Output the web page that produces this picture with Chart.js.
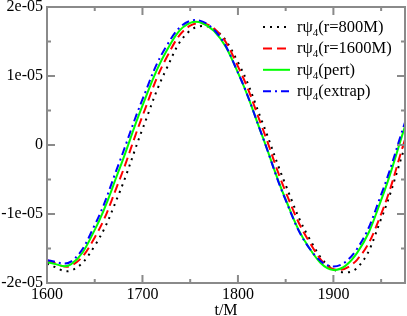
<!DOCTYPE html>
<html>
<head>
<meta charset="utf-8">
<script src="https://cdn.jsdelivr.net/npm/chart.js@4.4.0/dist/chart.umd.min.js"></script>
<style>
  html, body { margin: 0; padding: 0; background: #fff; }
  #c { display: block; }
</style>
</head>
<body>
<canvas id="c" width="407" height="316"></canvas>
<script>
// t/M sample points
const times = [1600, 1625, 1650, 1675, 1700, 1725, 1750, 1775, 1800, 1825, 1850, 1875, 1900, 1925, 1950, 1975];
// r*psi4 in units of 1e-05
const r800   = [-1.72, -1.82, -1.46, -0.72, 0.23, 1.10, 1.66, 1.68, 1.20, 0.35, -0.58, -1.36, -1.80, -1.78, -1.07, -0.02];
const r1600  = [-1.67, -1.75, -1.34, -0.54, 0.42, 1.26, 1.73, 1.69, 1.14, 0.27, -0.68, -1.41, -1.80, -1.66, -1.00, 0.08];
const pert   = [-1.70, -1.73, -1.23, -0.38, 0.57, 1.36, 1.77, 1.65, 1.05, 0.15, -0.79, -1.50, -1.81, -1.56, -0.80, 0.27];
const extrap = [-1.67, -1.69, -1.16, -0.28, 0.66, 1.43, 1.80, 1.67, 1.05, 0.15, -0.80, -1.50, -1.76, -1.50, -0.72, 0.33];

const seriesNames = ['(r=800M)', '(r=1600M)', '(pert)', '(extrap)'];

const xTicks = [1600, 1700, 1800, 1900];
const xMinor = [1650, 1750, 1850, 1950];
const yTicks = [-2, -1, 0, 1, 2];
const yMinor = [-1.5, -0.5, 0.5, 1.5];
const yTickLabels = ['-2e-05', '-1e-05', '0', '1e-05', '2e-05'];

const SERIF = '"Liberation Serif", "Times New Roman", serif';

const pts = arr => arr.map((v, i) => ({ x: times[i], y: v }));

function line(label, values, color, dash, order) {
    return {
        label: 'rψ4' + label,
        data: pts(values),
        borderColor: color,
        backgroundColor: color,
        borderDash: dash,
        borderWidth: 2,
        pointRadius: 0,
        tension: 0.4,
        fill: false,
        order: order
    };
}

// frame + inward ticks on all four sides
const framePlugin = {
    id: 'frame',
    afterDatasetsDraw(chart) {
        const { ctx, chartArea: a, scales: { x, y } } = chart;
        ctx.save();
        ctx.strokeStyle = '#8a8a8a';
        ctx.lineWidth = 2;
        ctx.strokeRect(a.left, a.top, a.right - a.left, a.bottom - a.top);
        ctx.beginPath();
        const xt = (v, len) => {
            const px = x.getPixelForValue(v);
            ctx.moveTo(px, a.bottom); ctx.lineTo(px, a.bottom - len);
            ctx.moveTo(px, a.top); ctx.lineTo(px, a.top + len);
        };
        const yt = (v, len) => {
            const py = y.getPixelForValue(v);
            ctx.moveTo(a.left, py); ctx.lineTo(a.left + len, py);
            ctx.moveTo(a.right, py); ctx.lineTo(a.right - len, py);
        };
        xTicks.forEach(v => xt(v, 8));
        xMinor.forEach(v => xt(v, 4));
        yTicks.forEach(v => yt(v, 8));
        yMinor.forEach(v => yt(v, 4));
        ctx.stroke();
        ctx.restore();
    }
};

// legend with subscript
const legendPlugin = {
    id: 'psiLegend',
    afterDraw(chart) {
        const ctx = chart.ctx;
        ctx.save();
        chart.data.datasets.forEach((ds, i) => {
            const yy = 27 + i * 21.4;
            ctx.strokeStyle = ds.borderColor;
            ctx.lineWidth = 2;
            ctx.setLineDash(ds.borderDash || []);
            ctx.beginPath();
            ctx.moveTo(263, yy);
            ctx.lineTo(290, yy);
            ctx.stroke();
            ctx.setLineDash([]);

            ctx.fillStyle = '#000';
            ctx.textBaseline = 'alphabetic';
            ctx.textAlign = 'left';
            let tx = 297;
            const base = yy + 5;
            ctx.font = '16.5px ' + SERIF;
            ctx.fillText('rψ', tx, base);
            tx += ctx.measureText('rψ').width;
            ctx.font = '11px ' + SERIF;
            ctx.fillText('4', tx, base + 4);
            tx += ctx.measureText('4').width;
            ctx.font = '16.5px ' + SERIF;
            ctx.fillText(seriesNames[i], tx, base);
        });
        ctx.restore();
    }
};

const noPad = s => { s.paddingTop = 0; s.paddingBottom = 0; s.paddingLeft = 0; s.paddingRight = 0; };

new Chart(document.getElementById('c'), {
    type: 'line',
    data: {
        datasets: [
            line(seriesNames[0], r800, '#000000', [2, 5], 3),
            line(seriesNames[1], r1600, '#ff0000', [9, 5], 2),
            line(seriesNames[2], pert, '#00ff00', [], 1),
            line(seriesNames[3], extrap, '#0000ff', [8, 4, 2, 4], 0)
        ]
    },
    options: {
        responsive: false,
        animation: false,
        layout: { padding: { top: 7, right: 2, left: 0, bottom: 0 } },
        plugins: {
            legend: { display: false },
            tooltip: { enabled: false }
        },
        scales: {
            x: {
                type: 'linear',
                min: 1600,
                max: 1975,
                afterBuildTicks: s => { s.ticks = xTicks.map(v => ({ value: v })); },
                afterFit: s => { s.height = 33; noPad(s); },
                grid: { display: false, drawTicks: false },
                border: { display: false },
                ticks: {
                    color: '#000',
                    padding: 2,
                    maxRotation: 0,
                    font: { family: SERIF, size: 16 },
                    callback: v => String(v)
                },
                title: {
                    display: true,
                    text: 't/M',
                    color: '#000',
                    padding: { top: 0, bottom: -4 },
                    font: { family: SERIF, size: 16 }
                }
            },
            y: {
                type: 'linear',
                min: -2,
                max: 2,
                afterBuildTicks: s => { s.ticks = yTicks.map(v => ({ value: v })); },
                afterFit: s => { s.width = 47; noPad(s); },
                grid: { display: false, drawTicks: false },
                border: { display: false },
                ticks: {
                    color: '#000',
                    padding: 4,
                    font: { family: SERIF, size: 16 },
                    callback: v => yTickLabels[yTicks.indexOf(v)]
                }
            }
        }
    },
    plugins: [framePlugin, legendPlugin]
});
</script>
</body>
</html>
